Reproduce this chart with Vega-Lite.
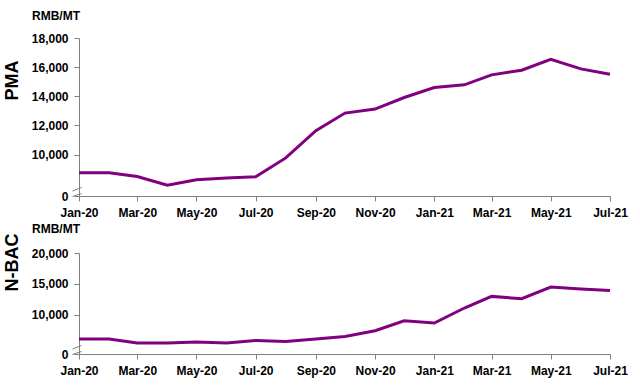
{
  "$schema": "https://vega.github.io/schema/vega-lite/v6.json",
  "padding": {"left": 3, "top": 9, "right": 5, "bottom": 2},
  "background": "white",
  "config": {
    "font": "Liberation Sans",
    "view": {"stroke": null},
    "axis": {
      "domainColor": "#808080",
      "tickColor": "#808080",
      "labelColor": "black",
      "labelFont": "Liberation Sans",
      "labelFontSize": 12,
      "labelFontWeight": "bold",
      "titleColor": "black",
      "titleFont": "Liberation Sans",
      "grid": false,
      "tickSize": 5
    },
    "title": {"color": "black", "font": "Liberation Sans"}
  },
  "datasets": {
    "pma": [
      {"date": "2020-01-01", "value": 8750},
      {"date": "2020-02-01", "value": 8750},
      {"date": "2020-03-01", "value": 8500},
      {"date": "2020-04-01", "value": 7900},
      {"date": "2020-05-01", "value": 8270},
      {"date": "2020-06-01", "value": 8400},
      {"date": "2020-07-01", "value": 8475},
      {"date": "2020-08-01", "value": 9775},
      {"date": "2020-09-01", "value": 11640},
      {"date": "2020-10-01", "value": 12850},
      {"date": "2020-11-01", "value": 13125},
      {"date": "2020-12-01", "value": 13920},
      {"date": "2021-01-01", "value": 14600},
      {"date": "2021-02-01", "value": 14790},
      {"date": "2021-03-01", "value": 15470},
      {"date": "2021-04-01", "value": 15790},
      {"date": "2021-05-01", "value": 16540},
      {"date": "2021-06-01", "value": 15880},
      {"date": "2021-07-01", "value": 15520}
    ],
    "nbac": [
      {"date": "2020-01-01", "value": 6060},
      {"date": "2020-02-01", "value": 6060},
      {"date": "2020-03-01", "value": 5410},
      {"date": "2020-04-01", "value": 5410},
      {"date": "2020-05-01", "value": 5575},
      {"date": "2020-06-01", "value": 5410},
      {"date": "2020-07-01", "value": 5835},
      {"date": "2020-08-01", "value": 5670},
      {"date": "2020-09-01", "value": 6080},
      {"date": "2020-10-01", "value": 6480},
      {"date": "2020-11-01", "value": 7400},
      {"date": "2020-12-01", "value": 9030},
      {"date": "2021-01-01", "value": 8650},
      {"date": "2021-02-01", "value": 11090},
      {"date": "2021-03-01", "value": 12970},
      {"date": "2021-04-01", "value": 12590},
      {"date": "2021-05-01", "value": 14490},
      {"date": "2021-06-01", "value": 14165},
      {"date": "2021-07-01", "value": 13940}
    ],
    "brk": [
      {"date": "2020-01-01", "value": 0}
    ]
  },
  "spacing": 4,
  "vconcat": [
    {
      "width": 531,
      "height": 158,
      "title": {"text": "RMB/MT", "anchor": "start", "frame": "group", "dx": -47, "fontSize": 12, "fontWeight": "bold", "offset": 9.5},
      "encoding": {
        "x": {
          "field": "date", "type": "temporal",
          "scale": {"type": "utc", "domain": [{"year": 2020, "month": 1, "date": 1, "utc": true}, {"year": 2021, "month": 7, "date": 1, "utc": true}]},
          "axis": {"title": null, "format": "%b-%y", "tickCount": {"interval": "month", "step": 2}, "labelAngle": 0, "labelFlush": false, "labelPadding": 6.5}
        },
        "y": {
          "field": "value", "type": "quantitative",
          "scale": {"domain": [0, 7300, 18000], "range": [158, 156, 0], "nice": false, "zero": false},
          "axis": {"values": [0, 10000, 12000, 14000, 16000, 18000], "format": ",.0f", "title": "PMA", "titleFontSize": 18, "titleFontWeight": "bold", "titleAngle": -90, "titleX": -67, "titleY": 42, "titleAlign": "center", "titleBaseline": "middle", "tickSize": 5, "labelPadding": 6}
        }
      },
      "layer": [
        {"data": {"name": "pma"}, "mark": {"type": "line", "color": "#800080", "strokeWidth": 3}},
        {"data": {"name": "brk"}, "mark": {"type": "point", "shape": "M-1.3,-1L0.5,-1.7M-1.3,0.1L0.5,-0.5", "size": 100, "stroke": "#808080", "strokeWidth": 1, "filled": false, "opacity": 1}}
      ]
    },
    {
      "width": 531,
      "height": 101,
      "title": {"text": "RMB/MT", "anchor": "start", "frame": "group", "dx": -47, "fontSize": 12, "fontWeight": "bold", "offset": -3},
      "encoding": {
        "x": {
          "field": "date", "type": "temporal",
          "scale": {"type": "utc", "domain": [{"year": 2020, "month": 1, "date": 1, "utc": true}, {"year": 2021, "month": 7, "date": 1, "utc": true}]},
          "axis": {"title": null, "format": "%b-%y", "tickCount": {"interval": "month", "step": 2}, "labelAngle": 0, "labelFlush": false, "labelPadding": 6.5}
        },
        "y": {
          "field": "value", "type": "quantitative",
          "scale": {"domain": [0, 3800, 20000], "range": [101, 100, 0], "nice": false, "zero": false},
          "axis": {"values": [0, 10000, 15000, 20000], "format": ",.0f", "title": "N-BAC", "titleFontSize": 18, "titleFontWeight": "bold", "titleAngle": -90, "titleX": -67, "titleY": 9, "titleAlign": "center", "titleBaseline": "middle", "tickSize": 5, "labelPadding": 6}
        }
      },
      "layer": [
        {"data": {"name": "nbac"}, "mark": {"type": "line", "color": "#800080", "strokeWidth": 3}},
        {"data": {"name": "brk"}, "mark": {"type": "point", "shape": "M-1.3,-1L0.5,-1.7M-1.3,0.1L0.5,-0.5", "size": 100, "stroke": "#808080", "strokeWidth": 1, "filled": false, "opacity": 1}}
      ]
    }
  ]
}
